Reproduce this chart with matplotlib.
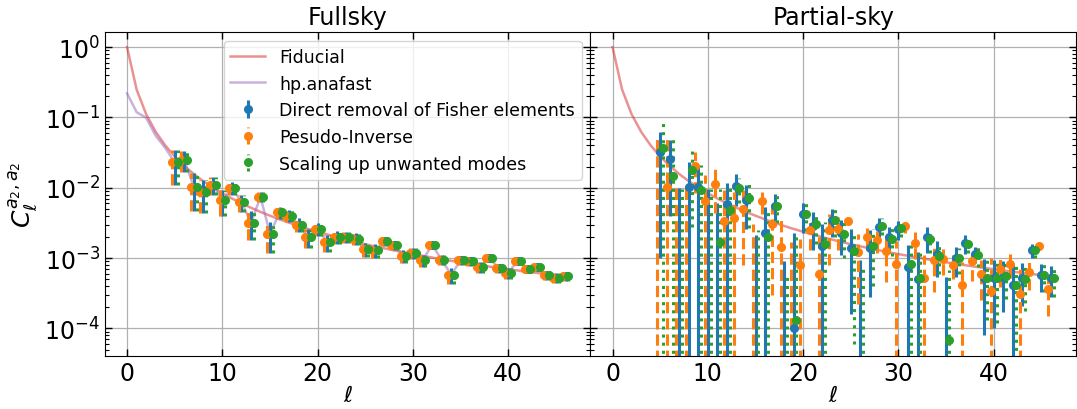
import numpy as np
import matplotlib
matplotlib.use("Agg")
import matplotlib.pyplot as plt
from matplotlib.ticker import LogLocator, NullFormatter

# ---------------- data ----------------
ell = list(range(47))
fiducial = [1.0, 0.2501, 0.1112, 0.0626, 0.0401, 0.0279, 0.0205, 0.0157, 0.0124, 0.0101,
            0.00836, 0.00704, 0.00602, 0.00520, 0.00454, 0.00401, 0.00356, 0.00319, 0.00287, 0.00260,
            0.00237, 0.00217, 0.00199, 0.00184, 0.00170, 0.00158, 0.00147, 0.00138, 0.00129, 0.00121,
            0.00114, 0.00108, 0.00102, 0.000965, 0.000916, 0.000872, 0.000830, 0.000793, 0.000757, 0.000725,
            0.000695, 0.000667, 0.000641, 0.000617, 0.000594, 0.000573, 0.000553]

anafast = [0.22, 0.119, 0.099, 0.055, 0.037,
           0.023, 0.025, 0.0104, 0.0087, 0.0111, 0.0066, 0.0100, 0.0063, 0.0032, 0.0074,
           0.0022, 0.0045, 0.0040, 0.0030, 0.0020, 0.0026, 0.0017, 0.0020, 0.0020, 0.0019,
           0.00135, 0.00129, 0.00175, 0.00154, 0.00108, 0.00118, 0.00093, 0.00154, 0.00095, 0.00058,
           0.00093, 0.00090, 0.00075, 0.00100, 0.00072, 0.00062, 0.00092, 0.00071, 0.00074, 0.00057,
           0.00053, 0.00055]

ell_data = list(range(5, 47))

full_cl = [0.023, 0.025, 0.0104, 0.0087, 0.0111, 0.0066, 0.0100, 0.0063, 0.0032, 0.0074,
           0.0022, 0.0045, 0.0040, 0.0030, 0.0020, 0.0026, 0.0017, 0.0020, 0.0020, 0.0019,
           0.00135, 0.00129, 0.00175, 0.00154, 0.00108, 0.00118, 0.00093, 0.00154, 0.00095, 0.00058,
           0.00093, 0.00090, 0.00075, 0.00100, 0.00072, 0.00062, 0.00092, 0.00071, 0.00074, 0.00057,
           0.00053, 0.00055]
full_err = [0.0119, 0.0080, 0.0057, 0.00425, 0.00328, 0.00258, 0.00208, 0.00170, 0.00141, 0.00119,
            0.00102, 0.000875, 0.000762, 0.000666, 0.000588, 0.000522, 0.000466, 0.000418, 0.000377, 0.000340,
            0.000310, 0.000282, 0.000261, 0.000239, 0.000220, 0.000204, 0.000190, 0.000176, 0.000164, 0.000154,
            0.000144, 0.000135, 0.000128, 0.000120, 0.000114, 0.000108, 0.000102, 0.0000968, 0.0000919, 0.0000873,
            0.0000837, 0.0000796]

# partial sky: direct removal (blue), pseudo-inverse (orange), scaling (green)
part_direct = [0.032, 0.026, -0.004, 0.0103, 0.0104, -0.003, -0.002, 0.0058, 0.0106, 0.0068,
               -0.001, 0.0023, 0.0055, -0.0005, 0.000103, 0.0042, 0.0029, 0.0015, 0.0035, 0.0023,
               0.00138, -0.0003, 0.00138, 0.0028, 0.0020, 0.0026, 0.00074, 0.00051, 0.0020, 0.00114,
               -0.0001, 0.00099, 0.00163, 0.00114, 0.00053, 0.00052, 0.00054, 0.00041, 0.00053, 0.00129,
               0.00058, 0.00053]
part_direct_err = [0.031, 0.022, 0.014, 0.013, 0.0106, 0.0127, 0.0081, 0.006, 0.005, 0.0042,
                   0.0031, 0.003, 0.0026, 0.0014, 0.0022, 0.0019, 0.0016, 0.0016, 0.0015, 0.0012,
                   0.00122, 0.00125, 0.0011, 0.0009, 0.0008, 0.0008, 0.0008, 0.0007, 0.0008, 0.0006,
                   0.00064, 0.00045, 0.0005, 0.0003, 0.00045, 0.00042, 0.00037, 0.0004, 0.00032, 0.0003,
                   0.00025, 0.00025]

part_pinv = [-0.005, 0.0104, -0.004, -0.004, 0.0203, 0.0065, 0.0114, 0.0034, 0.0037, 0.0050,
             -0.001, 0.0065, 0.0031, 0.00146, -0.0005, 0.00079, 0.0025, 0.0006, 0.0025, 0.0026,
             0.0034, 0.00122, 0.0020, 0.0018, 0.00126, 0.00083, 0.0029, 0.00166, 0.00052, 0.00093,
             0.00097, 0.00081, 0.00042, 0.00092, 0.0006, 0.00034, 0.00069, 0.00083, 0.00031, 0.00063,
             0.0015, 0.00037]
part_pinv_err = [0.057, 0.040, 0.0143, 0.0146, 0.012, 0.0087, 0.007, 0.006, 0.005, 0.0042,
                 0.0041, 0.0022, 0.0028, 0.0022, 0.0022, 0.0011, 0.0012, 0.0015, 0.0017, 0.0013,
                 0.0004, 0.001, 0.0007, 0.0006, 0.0008, 0.0009, 0.0006, 0.0007, 0.0006, 0.0006,
                 0.0004, 0.0003, 0.00045, 0.00045, 0.00035, 0.00066, 0.0003, 0.0003, 0.0004, 0.00028,
                 0.0002, 0.00022]

part_scale = [0.037, 0.0145, -0.004, 0.018, 0.0094, -0.003, 0.0017, 0.0048, 0.0100, 0.0072,
              -0.001, 0.0020, 0.0056, -0.0005, 0.00013, 0.0042, 0.0031, 0.0016, 0.0035, 0.0022,
              0.00126, -0.0003, 0.0015, 0.0029, 0.00187, 0.00268, 0.00083, 0.00053, 0.00187, 0.00109,
              0.000069, 0.00099, 0.00158, 0.0011, 0.00053, 0.00052, 0.00056, 0.00041, 0.00051, 0.0013,
              0.00058, 0.00053]
part_scale_err = [0.052, 0.036, 0.0137, 0.0152, 0.0115, 0.0127, 0.0080, 0.0062, 0.004, 0.0045,
                  0.0035, 0.0032, 0.0024, 0.0011, 0.002, 0.0018, 0.0015, 0.0017, 0.0015, 0.0012,
                  0.0012, 0.0011, 0.0011, 0.0008, 0.0008, 0.0007, 0.0009, 0.0007, 0.0007, 0.0005,
                  0.0006, 0.0004, 0.0004, 0.00035, 0.0004, 0.0004, 0.0003, 0.0004, 0.00033, 0.00028,
                  0.00025, 0.00025]

labels = ["Direct removal of Fisher elements", "Pesudo-Inverse", "Scaling up unwanted modes"]
titles = ["Fullsky", "Partial-sky"]

# ---------------- plot ----------------
plt.rcParams['font.family'] = ['DejaVu Sans']
fig, axes = plt.subplots(1, 2, figsize=(10.77, 4.10), dpi=100, sharey=True)
fig.subplots_adjust(left=0.0975, right=0.999, top=0.919, bottom=0.13, wspace=0)

x = np.array(ell_data, dtype=float)
off = 0.3
eb_kw = dict(fmt='o', ms=5.5, elinewidth=2.2)

def draw_err(ax, xs, ys, es, color, ls, label):
    eb = ax.errorbar(xs, ys, yerr=es, color=color, label=label, **eb_kw)
    eb[2][0].set_linestyle(ls)
    return eb

for i, ax in enumerate(axes):
    ax.set_yscale('log')
    ax.plot(ell, fiducial, color='tab:red', alpha=0.5, lw=1.8, label='Fiducial')
    if i == 0:
        ax.plot(ell, anafast, color='tab:purple', alpha=0.5, lw=1.8, label='hp.anafast')
        draw_err(ax, x, full_cl, full_err, 'tab:blue', '-', labels[0])
        draw_err(ax, x - off, full_cl, full_err, 'tab:orange', '--', labels[1])
        draw_err(ax, x + off, full_cl, full_err, 'tab:green', ':', labels[2])
    else:
        draw_err(ax, x, part_direct, part_direct_err, 'tab:blue', '-', labels[0])
        draw_err(ax, x - off, part_pinv, part_pinv_err, 'tab:orange', '--', labels[1])
        draw_err(ax, x + off, part_scale, part_scale_err, 'tab:green', ':', labels[2])
    ax.set_title(titles[i], fontsize=17)
    ax.set_xlabel(r'$\ell$', fontsize=16, labelpad=0)
    ax.grid(True, which='major', color='#b0b0b0', lw=0.9)
    ax.set_xticks([0, 10, 20, 30, 40])
    ax.yaxis.set_major_locator(LogLocator(base=10, numticks=20))
    ax.yaxis.set_minor_locator(LogLocator(base=10, subs=np.arange(2, 10), numticks=100))
    ax.yaxis.set_minor_formatter(NullFormatter())
    ax.tick_params(which='both', direction='in', top=True, right=True, labelsize=17)
    ax.tick_params(which='major', length=5, width=1)
    ax.tick_params(which='minor', length=3, width=0.8)

axes[0].set_ylim(4.1e-5, 1.63)
axes[0].set_ylabel(r'$C_\ell^{a_2,a_2}$', fontsize=18)
axes[1].tick_params(labelleft=False)
axes[0].legend(loc='upper right', fontsize=12.5)

fig.savefig('out.png', dpi=100)
